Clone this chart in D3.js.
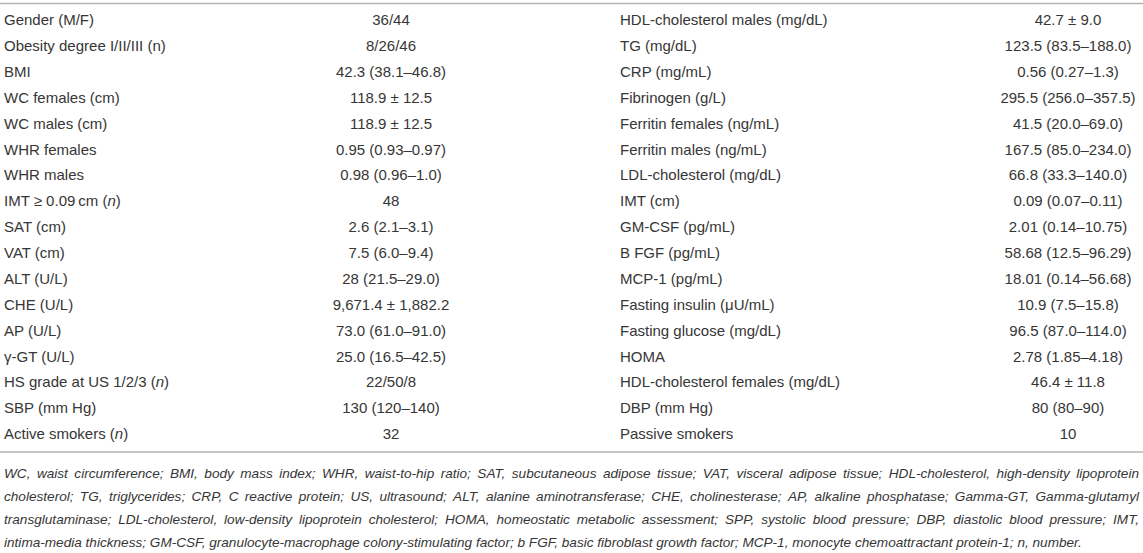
<!DOCTYPE html>
<html>
<head>
<meta charset="utf-8">
<script src="https://cdn.jsdelivr.net/npm/d3@7"></script>
<style>
  html, body { margin: 0; padding: 0; background: #fff; }
  svg { display: block; font-family: "Liberation Sans", Arial, Helvetica, sans-serif; }
</style>
</head>
<body>
<div id="chart"></div>
<script>
// {n} marks an italic n
const leftLabels = [
  "Gender (M/F)", "Obesity degree I/II/III (n)", "BMI", "WC females (cm)", "WC males (cm)",
  "WHR females", "WHR males", "IMT \u2265 0.09\u2009cm ({n})", "SAT (cm)", "VAT (cm)",
  "ALT (U/L)", "CHE (U/L)", "AP (U/L)", "\u03b3-GT (U/L)", "HS grade at US 1/2/3 ({n})",
  "SBP (mm Hg)", "Active smokers ({n})"
];
const leftValues = [
  "36/44", "8/26/46", "42.3 (38.1\u201346.8)", "118.9 \u00b1 12.5", "118.9 \u00b1 12.5",
  "0.95 (0.93\u20130.97)", "0.98 (0.96\u20131.0)", "48", "2.6 (2.1\u20133.1)", "7.5 (6.0\u20139.4)",
  "28 (21.5\u201329.0)", "9,671.4 \u00b1 1,882.2", "73.0 (61.0\u201391.0)", "25.0 (16.5\u201342.5)", "22/50/8",
  "130 (120\u2013140)", "32"
];
const rightLabels = [
  "HDL-cholesterol males (mg/dL)", "TG (mg/dL)", "CRP (mg/mL)", "Fibrinogen (g/L)", "Ferritin females (ng/mL)",
  "Ferritin males (ng/mL)", "LDL-cholesterol (mg/dL)", "IMT (cm)", "GM-CSF (pg/mL)", "B FGF (pg/mL)",
  "MCP-1 (pg/mL)", "Fasting insulin (\u03bcU/mL)", "Fasting glucose (mg/dL)", "HOMA", "HDL-cholesterol females (mg/dL)",
  "DBP (mm Hg)", "Passive smokers"
];
const rightValues = [
  "42.7 \u00b1 9.0", "123.5 (83.5\u2013188.0)", "0.56 (0.27\u20131.3)", "295.5 (256.0\u2013357.5)", "41.5 (20.0\u201369.0)",
  "167.5 (85.0\u2013234.0)", "66.8 (33.3\u2013140.0)", "0.09 (0.07\u20130.11)", "2.01 (0.14\u201310.75)", "58.68 (12.5\u201396.29)",
  "18.01 (0.14\u201356.68)", "10.9 (7.5\u201315.8)", "96.5 (87.0\u2013114.0)", "2.78 (1.85\u20134.18)", "46.4 \u00b1 11.8",
  "80 (80\u201390)", "10"
];
const footnoteLines = [
  "WC, waist circumference; BMI, body mass index; WHR, waist-to-hip ratio; SAT, subcutaneous adipose tissue; VAT, visceral adipose tissue; HDL-cholesterol, high-density lipoprotein",
  "cholesterol; TG, triglycerides; CRP, C reactive protein; US, ultrasound; ALT, alanine aminotransferase; CHE, cholinesterase; AP, alkaline phosphatase; Gamma-GT, Gamma-glutamyl",
  "transglutaminase; LDL-cholesterol, low-density lipoprotein cholesterol; HOMA, homeostatic metabolic assessment; SPP, systolic blood pressure; DBP, diastolic blood pressure; IMT,",
  "intima-media thickness; GM-CSF, granulocyte-macrophage colony-stimulating factor; b FGF, basic fibroblast growth factor; MCP-1, monocyte chemoattractant protein-1; n, number."
];

const width = 1143, height = 553;
const rowH = 25.875;
const noteH = 23;
const textColor = "#363636";
const ruleColor = "#b3b3b3";

const svg = d3.select("#chart").append("svg")
  .attr("width", width)
  .attr("height", height);

const y = d3.scaleBand()
  .domain(d3.range(leftLabels.length))
  .range([7, 7 + leftLabels.length * rowH]);

const x = d3.scaleOrdinal()
  .domain(["leftLabel", "leftValue", "rightLabel", "rightValue"])
  .range([4, 391, 620, 1068]);

const rows = leftLabels.map((d, i) => ({
  i, leftLabel: d, leftValue: leftValues[i], rightLabel: rightLabels[i], rightValue: rightValues[i]
}));

// rules
const topRule = y.range()[0] - 3.5;
const bottomRule = y.range()[1] + 5;
svg.selectAll("line.rule")
  .data([topRule, bottomRule])
  .enter().append("line")
  .attr("class", "rule")
  .attr("x1", 0).attr("x2", width)
  .attr("y1", d => d).attr("y2", d => d)
  .attr("stroke", ruleColor)
  .attr("stroke-width", 1.5);

function addRich(sel, str) {
  str.split(/(\{n\})/).filter(s => s.length).forEach(part => {
    if (part === "{n}") sel.append("tspan").style("font-style", "italic").text("n");
    else sel.append("tspan").text(part);
  });
}

const cols = [
  { key: "leftLabel", anchor: "start" },
  { key: "leftValue", anchor: "middle" },
  { key: "rightLabel", anchor: "start" },
  { key: "rightValue", anchor: "middle" }
];

const rowG = svg.selectAll("g.row")
  .data(rows)
  .enter().append("g")
  .attr("class", "row")
  .attr("transform", d => `translate(0,${y(d.i) + y.bandwidth() / 2})`);

cols.forEach(c => {
  rowG.append("text")
    .attr("x", x(c.key))
    .attr("dy", "0.35em")
    .attr("text-anchor", c.anchor)
    .style("font-size", "15px")
    .style("fill", textColor)
    .each(function(d) { addRich(d3.select(this), d[c.key]); });
});

// footnote, justified except the last line
const noteTop = bottomRule + 21;
const noteLeft = 4, noteRight = 1139;
const noteG = svg.append("g").attr("class", "footnote");

footnoteLines.forEach((line, k) => {
  const t = noteG.append("text")
    .attr("y", noteTop + k * noteH)
    .attr("dy", "0.35em")
    .style("font-size", "13.6px")
    .style("font-style", "italic")
    .style("fill", textColor);

  if (k === footnoteLines.length - 1) {
    t.attr("x", noteLeft).text(line);
    return;
  }
  const words = line.split(" ");
  const spans = words.map(w => t.append("tspan").text(w));
  const widths = spans.map(s => s.node().getComputedTextLength());
  const gap = (noteRight - noteLeft - d3.sum(widths)) / (words.length - 1);
  let cx = noteLeft;
  spans.forEach((s, j) => {
    s.attr("x", cx);
    cx += widths[j] + gap;
  });
});
</script>
</body>
</html>
